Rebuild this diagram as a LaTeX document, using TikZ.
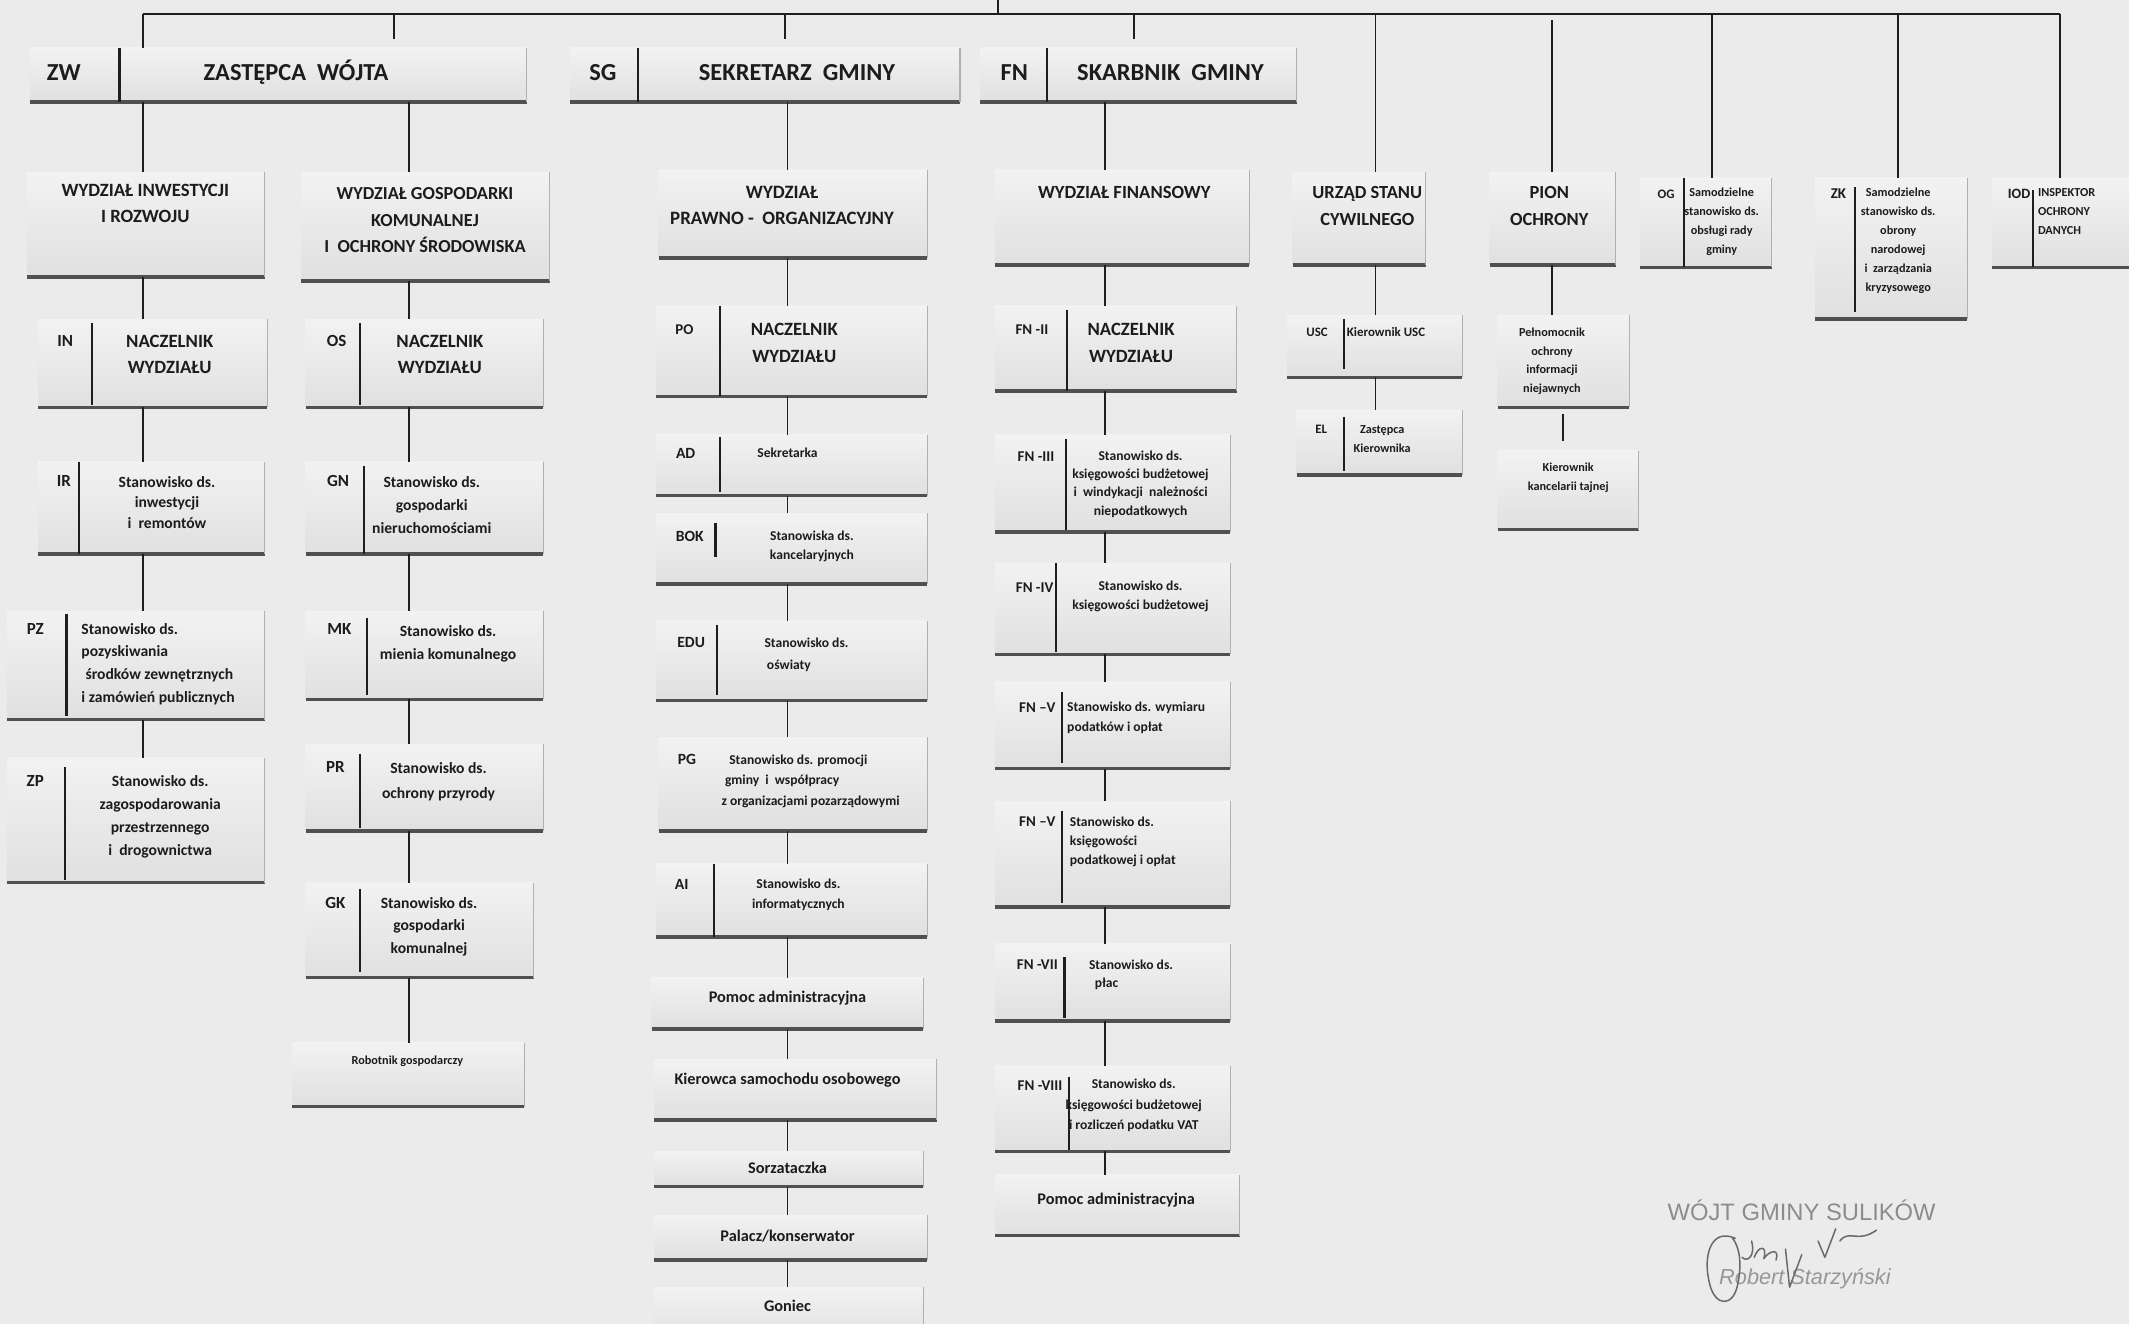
\documentclass[tikz,border=0pt]{standalone}
\usepackage{fontspec}
\setmainfont{Carlito}
\newfontfamily\sigfont{Liberation Sans}
\usetikzlibrary{calc}
\definecolor{bg}{HTML}{EBEBEB}
\definecolor{boxT}{HTML}{F2F2F2}
\definecolor{boxB}{HTML}{E0E0E0}
\definecolor{shd}{HTML}{505050}
\definecolor{rgt}{HTML}{B0B0B0}
\definecolor{txc}{HTML}{1C1C1C}
\definecolor{lnc}{HTML}{1E1E1E}
\definecolor{sigc}{HTML}{8C8C8C}
\tikzset{
 obox/.style={rectangle, inner sep=0, outer sep=0, top color=boxT, bottom color=boxB, draw=none},
 botl/.style={draw=shd, line width=2.6pt},
 rgtl/.style={draw=rgt, line width=0.8pt},
 divl/.style={draw=lnc, line width=1.6pt},
 conn/.style={draw=lnc, line width=1.4pt},
 tx/.style={anchor=base, inner sep=0, outer sep=0, text=txc},
 txl/.style={anchor=base west},
 fs/.style={font=\fontsize{#1}{#1}\selectfont\bfseries},
 sigl/.style={draw=sigc!75!black, line width=1.1pt, line cap=round, line join=round},
}
% box: name, x1, y1, x2, y2
\newcommand\obx[5]{%
  \node[obox, anchor=north west, minimum width={(#4)-(#2)}, minimum height={(#5)-(#3)}] (#1) at (#2,#3) {};
  \draw[botl] (#1.south west) -- (#1.south east);
  \draw[rgtl] (#1.north east) -- (#1.south east);
}
% text lines: [style] name, x, y(first baseline), skip, lines
\newcommand\tl[6][]{%
  \foreach \s [count=\i] in {#6} {\node[tx,#1] (#2-\i) at ({#3},{#4+(\i-1)*#5}) {\s};}
}
\begin{document}
\begin{tikzpicture}[x=1pt,y=-1pt]
\fill[bg] (0,0) rectangle (1568,975);
\useasboundingbox (0,0) rectangle (1568,975);

% ---------- boxes ----------
\obx{zw}{22}{35}{388}{75}
\obx{sg}{420}{35}{707}{75}
\obx{fn}{722}{35}{955}{75}

\obx{wir}{20}{127}{195}{204}
\obx{wgk}{222}{127}{405}{207}
\obx{wpo}{485}{125}{683}{190}
\obx{wf}{733}{125}{920}{195}
\obx{usc}{952}{127}{1050}{195}
\obx{pion}{1097}{127}{1190}{195}
\obx{og}{1208}{131}{1305}{197}
\obx{zk}{1337}{131}{1449}{235}
\obx{iod}{1467}{131}{1572}{197}

\obx{in}{28}{235}{197}{300}
\obx{os}{225}{235}{400}{300}
\obx{po}{483}{225}{683}{292}
\obx{fnii}{733}{225}{911}{288}
\obx{usck}{948}{232}{1077}{278}
\obx{peln}{1103}{232}{1200}{300}

\obx{ir}{28}{340}{195}{408}
\obx{gn}{225}{340}{400}{408}
\obx{ad}{483}{320}{683}{365}
\obx{fniii}{733}{320}{906}{392}
\obx{el}{955}{302}{1077}{350}
\obx{kk}{1103}{332}{1207}{390}

\obx{pz}{5}{450}{195}{530}
\obx{mk}{225}{450}{400}{515}
\obx{bok}{483}{378}{683}{430}
\obx{fniv}{733}{415}{906}{482}

\obx{zp}{5}{558}{195}{650}
\obx{pr}{225}{548}{400}{612}
\obx{edu}{483}{457}{683}{516}
\obx{fnv}{733}{502}{906}{566}

\obx{gk}{225}{650}{393}{720}
\obx{pg}{485}{543}{683}{612}
\obx{fnvi}{733}{590}{906}{668}

\obx{rob}{215}{768}{386}{815}
\obx{ai}{483}{636}{683}{690}
\obx{fnvii}{733}{695}{906}{752}

\obx{poma}{480}{720}{680}{758}
\obx{fnviii}{733}{785}{906}{848}
\obx{kier}{482}{780}{690}{825}
\obx{pomb}{733}{865}{913}{910}
\obx{sprz}{482}{848}{680}{874}
\obx{pal}{482}{895}{683}{928}
\obx{gon}{482}{948}{680}{990}

% ---------- dividers ----------
\draw[divl] (88,35) -- (88,75);
\draw[divl] (470,35) -- (470,75);
\draw[divl] (771,35) -- (771,75);
\draw[divl] (1240,131) -- (1240,197);
\draw[divl] (1366,138) -- (1366,230);
\draw[divl] (1497,140) -- (1497,197);
\draw[divl] (68,238) -- (68,298);
\draw[divl] (265,238) -- (265,298);
\draw[divl] (530,225) -- (530,292);
\draw[divl] (786,228) -- (786,288);
\draw[divl] (990,235) -- (990,272);
\draw[divl] (58,340) -- (58,408);
\draw[divl] (268,343) -- (268,408);
\draw[divl] (530,322) -- (530,362);
\draw[divl] (785,323) -- (785,390);
\draw[divl] (990,307) -- (990,347);
\draw[divl] (49,452) -- (49,527);
\draw[divl] (270,455) -- (270,512);
\draw[divl] (527,385) -- (527,410);
\draw[divl] (778,415) -- (778,480);
\draw[divl] (48,565) -- (48,648);
\draw[divl] (265,555) -- (265,610);
\draw[divl] (528,460) -- (528,512);
\draw[divl] (782,510) -- (782,562);
\draw[divl] (265,655) -- (265,716);
\draw[divl] (782,597) -- (782,665);
\draw[divl] (526,636) -- (526,690);
\draw[divl] (784,705) -- (784,750);
\draw[divl] (787,793) -- (787,847);

% ---------- connectors ----------
\coordinate (busL) at (105,10);
\coordinate (busR) at (1517,10);
\coordinate (wojt) at (735,0);
\coordinate (cA) at (105,0);
\coordinate (cB) at (301,0);
\coordinate (cC) at (580,0);
\coordinate (cD) at (814,0);
\coordinate (cE) at (1013,0);
\coordinate (cF) at (1143,15);
\coordinate (cG) at (1261,0);
\coordinate (cH) at (1398,0);
\coordinate (cK) at (1151,0);
\coordinate (s1) at (290,29);
\coordinate (s2) at (578,29);
\coordinate (s3) at (835,29);

\draw[conn] (busL) -- (busR);
\draw[conn] (wojt) -- (wojt |- busL);
\draw[conn] (busL) -- (zw.north -| busL);
\draw[conn] (s1 |- busL) -- (s1);
\draw[conn] (s2 |- busL) -- (s2);
\draw[conn] (s3 |- busL) -- (s3);
\draw[conn] (busL -| cE) -- (usc.north -| cE);
\draw[conn] (cF) -- (pion.north -| cF);
\draw[conn] (busL -| cG) -- (og.north -| cG);
\draw[conn] (busL -| cH) -- (zk.north -| cH);
\draw[conn] (busR) -- (iod.north -| busR);

\draw[conn] (zw.south -| cA) -- (wir.north -| cA);
\draw[conn] (wir.south -| cA) -- (in.north -| cA);
\draw[conn] (in.south -| cA) -- (ir.north -| cA);
\draw[conn] (ir.south -| cA) -- (pz.north -| cA);
\draw[conn] (pz.south -| cA) -- (zp.north -| cA);

\draw[conn] (zw.south -| cB) -- (wgk.north -| cB);
\draw[conn] (wgk.south -| cB) -- (os.north -| cB);
\draw[conn] (os.south -| cB) -- (gn.north -| cB);
\draw[conn] (gn.south -| cB) -- (mk.north -| cB);
\draw[conn] (mk.south -| cB) -- (pr.north -| cB);
\draw[conn] (pr.south -| cB) -- (gk.north -| cB);
\draw[conn] (gk.south -| cB) -- (rob.north -| cB);

\draw[conn] (sg.south -| cC) -- (wpo.north -| cC);
\draw[conn] (wpo.south -| cC) -- (po.north -| cC);
\draw[conn] (po.south -| cC) -- (ad.north -| cC);
\draw[conn] (ad.south -| cC) -- (bok.north -| cC);
\draw[conn] (bok.south -| cC) -- (edu.north -| cC);
\draw[conn] (edu.south -| cC) -- (pg.north -| cC);
\draw[conn] (pg.south -| cC) -- (ai.north -| cC);
\draw[conn] (ai.south -| cC) -- (poma.north -| cC);
\draw[conn] (poma.south -| cC) -- (kier.north -| cC);
\draw[conn] (kier.south -| cC) -- (sprz.north -| cC);
\draw[conn] (sprz.south -| cC) -- (pal.north -| cC);
\draw[conn] (pal.south -| cC) -- (gon.north -| cC);

\draw[conn] (fn.south -| cD) -- (wf.north -| cD);
\draw[conn] (wf.south -| cD) -- (fnii.north -| cD);
\draw[conn] (fnii.south -| cD) -- (fniii.north -| cD);
\draw[conn] (fniii.south -| cD) -- (fniv.north -| cD);
\draw[conn] (fniv.south -| cD) -- (fnv.north -| cD);
\draw[conn] (fnv.south -| cD) -- (fnvi.north -| cD);
\draw[conn] (fnvi.south -| cD) -- (fnvii.north -| cD);
\draw[conn] (fnvii.south -| cD) -- (fnviii.north -| cD);
\draw[conn] (fnviii.south -| cD) -- (pomb.north -| cD);

\draw[conn] (usc.south -| cE) -- (usck.north -| cE);
\draw[conn] (usck.south -| cE) -- (el.north -| cE);
\draw[conn] (pion.south -| cF) -- (peln.north -| cF);
\draw[conn] ($(peln.south -| cK)+(0,5)$) -- ($(kk.north -| cK)+(0,-7)$);

% ---------- texts ----------
\node[tx,fs=18] (zwC) at (47,59) {ZW};
\node[tx,fs=18] (zwT) at (218,59) {ZASTĘPCA~~WÓJTA};
\node[tx,fs=18] (sgC) at (444,59) {SG};
\node[tx,fs=18] (sgT) at (587,59) {SEKRETARZ~~GMINY};
\node[tx,fs=18] (fnC) at (747,59) {FN};
\node[tx,fs=18] (fnT) at (862,59) {SKARBNIK~~GMINY};

\tl[fs=13.8]{wirT}{107}{145}{19}{WYDZIAŁ INWESTYCJI,I ROZWOJU}
\tl[fs=13.5]{wgkT}{313}{147}{19.5}{WYDZIAŁ GOSPODARKI,KOMUNALNEJ,I~~OCHRONY ŚRODOWISKA}
\tl[fs=13.9]{wpoT}{576}{146}{19}{WYDZIAŁ,PRAWNO -~~ORGANIZACYJNY}
\tl[fs=13.7]{wfT}{828}{146}{19}{WYDZIAŁ FINANSOWY}
\tl[fs=13.6]{uscT}{1007}{146}{20}{URZĄD STANU,CYWILNEGO}
\tl[fs=13.6]{pionT}{1141}{146}{20}{PION,OCHRONY}
\node[tx,fs=9.5] (ogC) at (1227,146) {OG};
\tl[fs=9]{ogT}{1268}{145}{14}{Samodzielne,stanowisko ds.,obsługi rady,gminy}
\node[tx,fs=11] (zkC) at (1354,146) {ZK};
\tl[fs=9]{zkT}{1398}{145}{14}{Samodzielne,stanowisko ds.,obrony,narodowej,i~~zarządzania,kryzysowego}
\node[tx,fs=10.5] (iodC) at (1487,146) {IOD};
\tl[fs=9,txl]{iodT}{1501}{145}{14}{INSPEKTOR,OCHRONY,DANYCH}

\node[tx,fs=12.5] (inC) at (48,255) {IN};
\tl[fs=13.8]{inT}{125}{256}{19}{NACZELNIK,WYDZIAŁU}
\node[tx,fs=12.5] (osC) at (248,255) {OS};
\tl[fs=13.8]{osT}{324}{256}{19}{NACZELNIK,WYDZIAŁU}
\node[tx,fs=11] (poC) at (504,246) {PO};
\tl[fs=13.8]{poT}{585}{247}{20}{NACZELNIK,WYDZIAŁU}
\node[tx,fs=11] (fniiC) at (760,246) {FN -II};
\tl[fs=13.8]{fniiT}{833}{247}{20}{NACZELNIK,WYDZIAŁU}
\node[tx,fs=9.5] (usckC) at (970,248) {USC};
\node[tx,txl,fs=9.5] (usckT) at (992,248) {Kierownik USC};
\tl[fs=9]{pelnT}{1143}{248}{13.7}{Pełnomocnik,ochrony,informacji,niejawnych}

\node[tx,fs=12.5] (irC) at (47,358) {IR};
\tl[fs=11.5]{irT}{123}{359}{15}{Stanowisko ds.,inwestycji,i~~remontów}
\node[tx,fs=12.5] (gnC) at (249,358) {GN};
\tl[fs=11.5]{gnT}{318}{359}{17}{Stanowisko ds.,gospodarki,nieruchomościami}
\node[tx,fs=11.5] (adC) at (505,338) {AD};
\node[tx,fs=10] (adT) at (580,337) {Sekretarka};
\node[tx,fs=11] (fniiiC) at (763,340) {FN -III};
\tl[fs=10]{fniiiT}{840}{339}{13.5}{Stanowisko ds.,księgowości budżetowej,i~~windykacji~~należności,niepodatkowych}
\node[tx,fs=9.5] (elC) at (973,319) {EL};
\tl[fs=9]{elT}{1018}{319}{14}{Zastępca,Kierownika}
\tl[fs=9]{kkT}{1155}{347}{14}{Kierownik,kancelarii tajnej}

\node[tx,fs=12.5] (pzC) at (26,467) {PZ};
\tl[fs=11.5,txl]{pzT}{60}{467}{16.8}{Stanowisko ds.,pozyskiwania,\hspace{3pt}środków zewnętrznych,i zamówień publicznych}
\node[tx,fs=12.5] (mkC) at (250,467) {MK};
\tl[fs=11.5]{mkT}{330}{469}{17}{Stanowisko ds.,mienia komunalnego}
\node[tx,fs=11.5] (bokC) at (508,399) {BOK};
\tl[fs=10]{bokT}{598}{398}{14}{Stanowiska ds.,kancelaryjnych}
\node[tx,fs=11] (fnivC) at (762,436) {FN -IV};
\tl[fs=10]{fnivT}{840}{435}{14}{Stanowisko ds.,księgowości budżetowej}

\node[tx,fs=12.5] (zpC) at (26,579) {ZP};
\tl[fs=11.5]{zpT}{118}{579}{17}{Stanowisko ds.,zagospodarowania,przestrzennego,i~~drogownictwa}
\node[tx,fs=12.5] (prC) at (247,569) {PR};
\tl[fs=11.5]{prT}{323}{570}{18}{Stanowisko ds.,ochrony przyrody}
\node[tx,fs=11.5] (eduC) at (509,477) {EDU};
\node[tx,fs=10] (eduT1) at (594,477) {Stanowisko ds.};
\node[tx,fs=10] (eduT2) at (581,493) {oświaty};
\node[tx,fs=11] (fnvC) at (764,525) {FN –V};
\tl[fs=10,txl]{fnvT}{786}{524}{15}{Stanowisko ds. wymiaru,podatków i opłat}

\node[tx,fs=12.5] (gkC) at (247,669) {GK};
\tl[fs=11.5]{gkT}{316}{669}{16.5}{Stanowisko ds.,gospodarki,komunalnej}
\node[tx,fs=11.5] (pgC) at (506,563) {PG};
\node[tx,fs=10] (pgT1) at (588,563) {Stanowisko ds. promocji};
\node[tx,fs=10] (pgT2) at (576,578) {gminy~~i~~współpracy};
\node[tx,fs=10] (pgT3) at (597,593) {z organizacjami pozarządowymi};
\node[tx,fs=11] (fnviC) at (764,609) {FN –V};
\tl[fs=10,txl]{fnviT}{788}{609}{14}{Stanowisko ds.,księgowości,podatkowej i opłat}

\node[tx,fs=9] (robT) at (300,784) {Robotnik gospodarczy};
\node[tx,fs=11.5] (aiC) at (502,655) {AI};
\tl[fs=10]{aiT}{588}{654}{15}{Stanowisko ds.,informatycznych}
\node[tx,fs=11] (fnviiC) at (764,714) {FN -VII};
\node[tx,fs=10] (fnviiT1) at (833,714) {Stanowisko ds.};
\node[tx,fs=10] (fnviiT2) at (815,727) {płac};

\node[tx,fs=12] (pomaT) at (580,738) {Pomoc administracyjna};
\node[tx,fs=11] (fnviiiC) at (766,803) {FN -VIII};
\tl[fs=10]{fnviiiT}{835}{802}{15}{Stanowisko ds.,księgowości budżetowej,i rozliczeń podatku VAT}
\node[tx,fs=12] (kierT) at (580,799) {Kierowca samochodu osobowego};
\node[tx,fs=12] (pombT) at (822,887) {Pomoc administracyjna};
\node[tx,fs=12] (sprzT) at (580,864) {Sorzataczka};
\node[tx,fs=12] (palT) at (580,914) {Palacz/konserwator};
\node[tx,fs=12] (gonT) at (580,966) {Goniec};

% ---------- signature ----------
\node[anchor=base west, inner sep=0, text=sigc, font=\sigfont\fontsize{17.5}{17.5}\selectfont] (sig1) at (1228,899) {WÓJT GMINY SULIKÓW};
\node[anchor=base west, inner sep=0, text=sigc!90, font=\sigfont\itshape\fontsize{16}{16}\selectfont] (sig2) at (1266,946) {Robert Starzyński};
\draw[sigl] (1278,912) .. controls (1260,904) and (1254,925) .. (1259,945) .. controls (1263,963) and (1277,963) .. (1280,945) .. controls (1283,930) and (1281,918) .. (1276,912);
\draw[sigl] (1290,914) .. controls (1293,925) and (1287,930) .. (1283,926);
\draw[sigl] (1292,926) .. controls (1295,917) and (1302,917) .. (1299,927) .. controls (1303,921) and (1311,919) .. (1308,928);
\draw[sigl] (1315,920) -- (1318,948) -- (1327,924);
\draw[sigl] (1339,914) -- (1344,926) -- (1352,905);
\draw[sigl] (1355,914) .. controls (1362,905) and (1368,916) .. (1382,906);
\end{tikzpicture}
\end{document}
